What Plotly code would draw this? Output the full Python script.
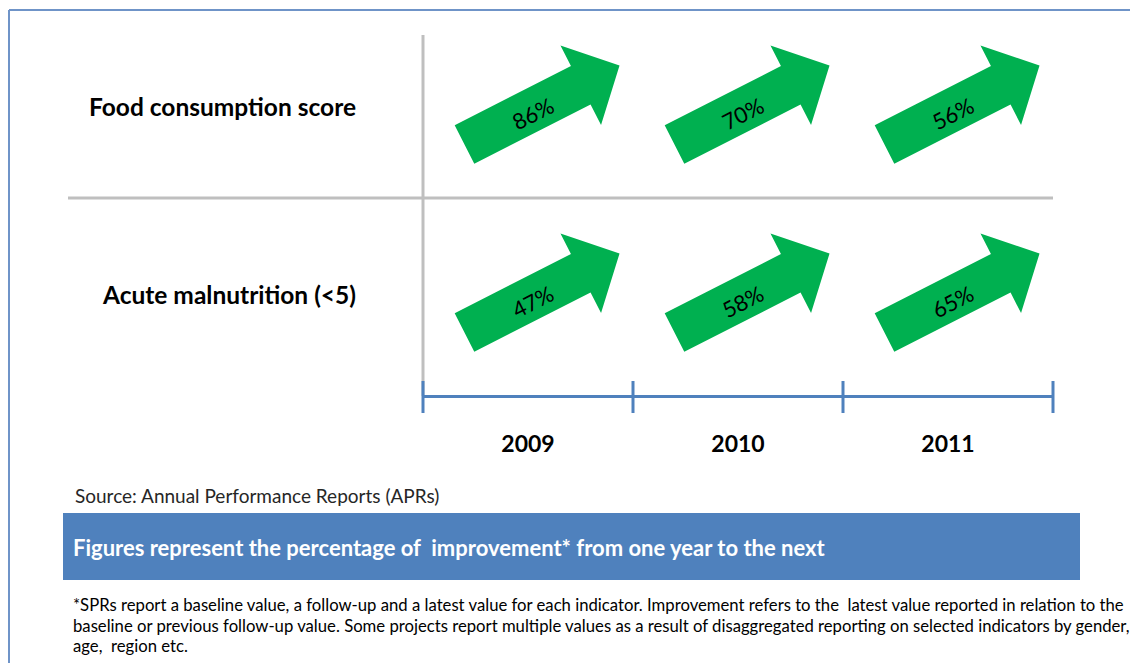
import math
import plotly.graph_objects as go

# ---------------- data ----------------
years = ["2009", "2010", "2011"]
indicators = ["Food consumption score", "Acute malnutrition (<5)"]
food_consumption = [86, 70, 56]
acute_malnutrition = [47, 58, 65]
series = [food_consumption, acute_malnutrition]

source_text = "Source: Annual Performance Reports (APRs)"
banner_text = "Figures represent the percentage of  improvement* from one year to the next"
footnote_lines = [
    "*SPRs report a baseline value, a follow-up and a latest value for each indicator. Improvement refers to the  latest value reported in relation to the",
    "baseline or previous follow-up value. Some projects report multiple values as a result of disaggregated reporting on selected indicators by gender,",
    "age,  region etc.",
]

# ---------------- layout constants ----------------
OFF = 8                       # page body margin of the html page
W, H = 1138 - OFF, 663 - OFF
L, R, T, B = 423 - OFF, 85, 35 - OFF, 267
PW, PH = W - L - R, H - T - B
XR = [-0.5, len(years) - 0.5]
YR = [1.537, -0.383]          # reversed: row 0 on top
SX = PW / (XR[1] - XR[0])     # px per x unit
SY = PH / (YR[0] - YR[1])     # px per y unit (downwards)

GREEN = "#00b050"
BLUE = "#4f81bd"
GRAY = "#bfbfbf"
FONT = "Lato"


def paper(px, py):
    """reference-image pixel -> paper coordinates"""
    return (px - OFF - L) / PW, (H - B - (py - OFF)) / PH


def xpaper(xval):
    """data x -> paper x"""
    return (xval - XR[0]) / (XR[1] - XR[0])


# arrow geometry in pixels
ANG = math.radians(27)
HALF_LEN = 87
SHAFT_HW = 21.6
HEAD_HW = 44.7
HEAD_LEN = 43.5
ARROW_DX, ARROW_DY = 14, -2
ux, uy = math.cos(ANG), -math.sin(ANG)
nx, ny = math.sin(ANG), math.cos(ANG)
frame = [(-HALF_LEN, -SHAFT_HW), (HALF_LEN - HEAD_LEN, -SHAFT_HW),
         (HALF_LEN - HEAD_LEN, -HEAD_HW), (HALF_LEN, 0),
         (HALF_LEN - HEAD_LEN, HEAD_HW), (HALF_LEN - HEAD_LEN, SHAFT_HW),
         (-HALF_LEN, SHAFT_HW), (-HALF_LEN, -SHAFT_HW)]

fig = go.Figure()
annotations = []

for r, vals in enumerate(series):
    for c, v in enumerate(vals):
        xs, ys = [], []
        for s, t in frame:
            dx = ARROW_DX + s * ux + t * nx
            dy = ARROW_DY + s * uy + t * ny
            xs.append(c + dx / SX)
            ys.append(r + dy / SY)
        fig.add_trace(go.Scatter(x=xs, y=ys, mode="lines", fill="toself",
                                 fillcolor=GREEN, line=dict(width=0, color=GREEN),
                                 hoverinfo="skip", showlegend=False))
        tdx = ARROW_DX + (-12) * ux + 3 * nx
        tdy = ARROW_DY + (-12) * uy + 3 * ny
        annotations.append(dict(x=c + tdx / SX, y=r + tdy / SY, xref="x", yref="y",
                                text=f"{v}%", showarrow=False, textangle=-27,
                                font=dict(family=FONT, size=22, color="black")))

shapes = []
# gray vertical line at the left of the grid
_, ytop = paper(0, 35)
_, ybot = paper(0, 396)
shapes.append(dict(type="line", xref="paper", yref="paper", x0=0, x1=0,
                   y0=ybot, y1=ytop, line=dict(color=GRAY, width=3)))
# gray divider between rows
x0p, _ = paper(68, 0)
ydiv = 0.5 - 3 / SY
shapes.append(dict(type="line", xref="paper", yref="y", x0=x0p, x1=1.0,
                   y0=ydiv, y1=ydiv, line=dict(color=GRAY, width=3)))
# blue time axis with boundary ticks
_, yax = paper(0, 396.5)
shapes.append(dict(type="line", xref="paper", yref="paper", x0=0, x1=1,
                   y0=yax, y1=yax, line=dict(color=BLUE, width=3)))
_, ylo = paper(0, 413)
_, yhi = paper(0, 381)
for k in range(len(years) + 1):
    xb = xpaper(k - 0.5)
    shapes.append(dict(type="line", xref="paper", yref="paper", x0=xb, x1=xb,
                       y0=ylo, y1=yhi, line=dict(color=BLUE, width=3)))
# outer border (top + left)
bx0, by0 = paper(9, 10)
bx1, _ = paper(1145, 0)
_, by1 = paper(0, 670)
shapes.append(dict(type="line", xref="paper", yref="paper", x0=bx0, x1=bx1, y0=by0, y1=by0,
                   line=dict(color="#6f94c8", width=2)))
shapes.append(dict(type="line", xref="paper", yref="paper", x0=bx0, x1=bx0, y0=by0, y1=by1,
                   line=dict(color="#6f94c8", width=2)))
# banner box
rx0, ry0 = paper(63, 513)
rx1, ry1 = paper(1080, 580)
shapes.append(dict(type="rect", xref="paper", yref="paper", x0=rx0, x1=rx1, y0=ry1, y1=ry0,
                   fillcolor=BLUE, line=dict(width=0), layer="below"))

# source text
sx_, sy_ = paper(73, 495)
annotations.append(dict(x=sx_, y=sy_, xref="paper", yref="paper", text=source_text,
                        showarrow=False, xanchor="left", yanchor="middle",
                        font=dict(family=FONT, size=19, color="#262626")))
# banner text
tx_, ty_ = paper(71, 547)
annotations.append(dict(x=tx_, y=ty_, xref="paper", yref="paper", text=banner_text,
                        showarrow=False, xanchor="left", yanchor="middle",
                        font=dict(family=FONT, size=22, color="white", weight="bold")))
# footnote
for i, line in enumerate(footnote_lines):
    fx, fy = paper(71, 605 + 20.5 * i)
    annotations.append(dict(x=fx, y=fy, xref="paper", yref="paper", text=line,
                            showarrow=False, xanchor="left", yanchor="middle",
                            font=dict(family=FONT, size=16.7, color="black")))

fig.update_layout(
    width=W, height=H,
    margin=dict(l=L, r=R, t=T, b=B, autoexpand=False),
    plot_bgcolor="white", paper_bgcolor="white",
    showlegend=False,
    shapes=shapes, annotations=annotations,
    xaxis=dict(range=XR, tickvals=list(range(len(years))), ticktext=years,
               showgrid=False, zeroline=False, showline=False,
               ticks="", ticklabelstandoff=32,
               tickfont=dict(family=FONT, size=23, color="black", weight="bold"),
               fixedrange=True),
    yaxis=dict(range=YR, tickvals=list(range(len(indicators))), ticktext=indicators,
               showgrid=False, zeroline=False, showline=False,
               ticks="", ticklabelstandoff=66,
               tickfont=dict(family=FONT, size=24.5, color="black", weight="bold"),
               fixedrange=True),
)

fig.write_html("out.html")
